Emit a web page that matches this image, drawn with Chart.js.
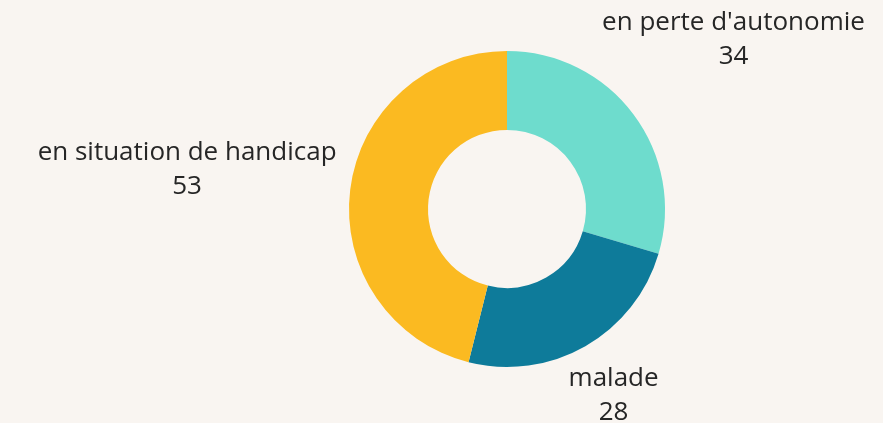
<!DOCTYPE html>
<html><head><meta charset="utf-8">
<script src="https://cdn.jsdelivr.net/npm/chart.js@4.4.0/dist/chart.umd.min.js"></script>
<style>html,body{margin:0;padding:0;background:#f9f5f1;}#wrap{width:883px;height:423px;position:relative;}</style>
</head><body><div id="wrap"><canvas id="c" width="883" height="423"></canvas></div>
<script>
const categories = ["en perte d'autonomie", "malade", "en situation de handicap"];
const values = [34, 28, 53];
const colors = ["#6edccd", "#0e7b9a", "#fbba21"];
const labelDist = [1.79, 1.36, 2.04];

const labelPlugin = {
  id: 'outLabels',
  afterDraw(chart) {
    const ctx = chart.ctx;
    const meta = chart.getDatasetMeta(0);
    ctx.save();
    ctx.fillStyle = '#262626';
    ctx.font = '26px "Open Sans", sans-serif';
    ctx.textAlign = 'center';
    ctx.textBaseline = 'middle';
    meta.data.forEach((arc, i) => {
      const p = arc.getProps(['x','y','startAngle','endAngle','outerRadius'], true);
      const mid = (p.startAngle + p.endAngle) / 2;
      const r = p.outerRadius * labelDist[i];
      const cx = p.x + Math.cos(mid) * r;
      const cy = p.y + Math.sin(mid) * r;
      ctx.fillText(chart.data.labels[i], cx, cy - 17);
      ctx.fillText(String(chart.data.datasets[0].data[i]), cx, cy + 17);
    });
    ctx.restore();
  }
};

new Chart(document.getElementById('c'), {
  type: 'doughnut',
  data: { labels: categories, datasets: [{ data: values, backgroundColor: colors, borderWidth: 0 }] },
  options: {
    responsive: false, animation: false, cutout: '50%',
    layout: { padding: { top: 51, bottom: 56, left: 349, right: 218 } },
    plugins: { legend: { display: false }, tooltip: { enabled: false } }
  },
  plugins: [labelPlugin]
});
</script></body></html>
